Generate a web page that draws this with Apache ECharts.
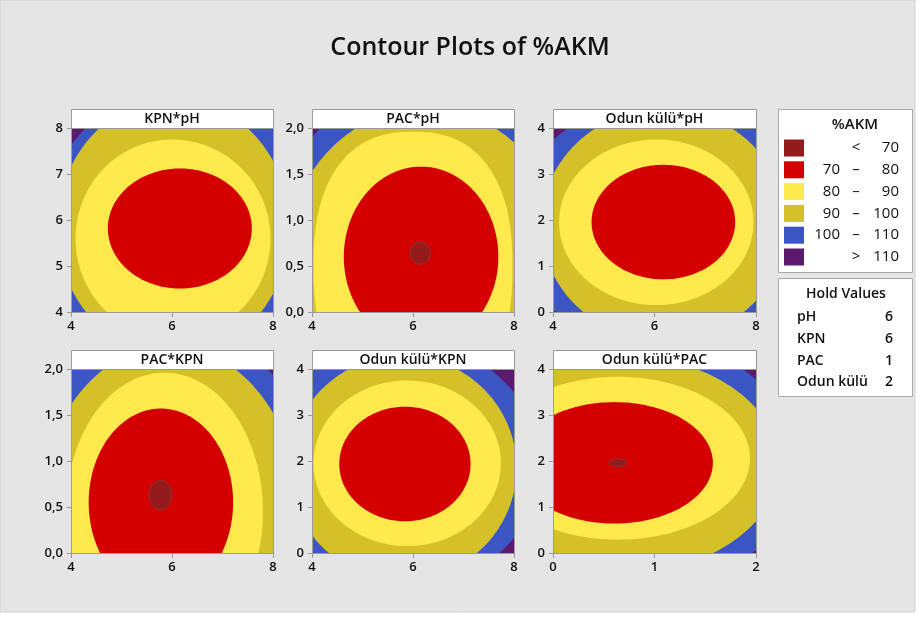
<!DOCTYPE html>
<html><head><meta charset="utf-8">
<script src="https://cdn.jsdelivr.net/npm/echarts@6/dist/echarts.min.js"></script>
<style>html,body{margin:0;padding:0;background:#fff}#c{width:924px;height:621px}</style>
</head><body><div id="c"></div><script>
const titleText = 'Contour Plots of %AKM';
const panelTitles = ['KPN*pH', 'PAC*pH', 'Odun külü*pH', 'PAC*KPN', 'Odun külü*KPN', 'Odun külü*PAC'];
const xMins = [4, 4, 4, 4, 4, 0];
const xMaxs = [8, 8, 8, 8, 8, 2];
const xSteps = [2, 2, 2, 2, 2, 1];
const yMins = [4, 0, 0, 0, 0, 0];
const yMaxs = [8, 2, 4, 2, 4, 4];
const ySteps = [1, 0.5, 1, 0.5, 1, 1];
const yDecimals = [0, 1, 0, 1, 0, 0];

// contour boundaries:
// [level, centreX, centreY, reachLeft, reachRight, reachDown, reachUp, roundness]
const contourKpnPh   = [[110, 6.15, 5.75, 2.7, 2.7, 3.1, 3.1, 2], [100, 6.03, 5.84, 2.3, 2.3, 2.8, 2.8, 2], [90, 6.0, 5.6, 1.91, 1.95, 2.17, 2.15, 2], [80, 6.16, 5.82, 1.43, 1.42, 1.31, 1.30, 2]];
const contourPacPh   = [[110, 6.25, 0.5, 3.0, 3.0, 2.1, 2.1, 2], [100, 6.25, 0.5, 2.8, 2.8, 1.72, 1.72, 2], [90, 6.0, 0.49, 1.97, 1.97, 1.47, 1.47, 2.4], [80, 6.16, 0.6, 1.53, 1.53, 0.98, 0.98, 2], [70, 6.14, 0.64, 0.2, 0.2, 0.12, 0.12, 2]];
const contourOdunPh  = [[110, 6.18, 1.9, 2.96, 2.96, 2.72, 2.72, 2], [100, 6.18, 1.9, 2.41, 2.41, 2.52, 2.52, 2], [90, 6.035, 1.95, 1.915, 1.915, 1.8, 1.8, 2], [80, 6.175, 1.955, 1.415, 1.415, 1.245, 1.245, 2]];
const contourPacKpn  = [[110, 5.85, 0.45, 3.27, 3.27, 1.975, 1.975, 2], [100, 5.95, 0.45, 2.55, 2.55, 1.8, 1.8, 2], [90, 5.85, 0.45, 1.95, 1.95, 1.51, 1.51, 2], [80, 5.78, 0.55, 1.43, 1.43, 1.02, 1.02, 2], [70, 5.77, 0.63, 0.22, 0.22, 0.16, 0.16, 2]];
const contourOdunKpn = [[110, 5.6, 1.91, 2.92, 2.92, 2.77, 2.77, 2], [100, 5.8, 1.85, 2.25, 2.25, 2.44, 2.44, 2], [90, 5.885, 1.95, 1.855, 1.855, 1.8, 1.8, 2], [80, 5.84, 1.935, 1.3, 1.3, 1.245, 1.245, 2]];
const contourOdunPac = [[110, 0.6, 1.92, 1.81, 1.81, 2.92, 2.92, 2], [100, 0.6, 1.92, 1.63, 1.63, 2.4, 2.4, 2], [90, 0.64, 2.06, 1.3, 1.3, 1.77, 1.77, 2], [80, 0.605, 1.96, 0.97, 0.97, 1.32, 1.32, 2], [70, 0.64, 1.96, 0.085, 0.085, 0.09, 0.09, 2]];
const contours = [contourKpnPh, contourPacPh, contourOdunPh, contourPacKpn, contourOdunKpn, contourOdunPac];

const legendTitle = '%AKM';
const legendLow  = ['', '70', '80', '90', '100', ''];
const legendSep  = ['<', '–', '–', '–', '–', '>'];
const legendHigh = ['70', '80', '90', '100', '110', '110'];
const bandLevels = [70, 80, 90, 100, 110];
const bandColors = ['#931b1b', '#d40000', '#ffe94d', '#d4c12a', '#3b56c2', '#5b1a6e'];

const holdTitle = 'Hold Values';
const holdNames = ['pH', 'KPN', 'PAC', 'Odun külü'];
const holdValues = [6, 6, 1, 2];

const FONT = '"Open Sans", "Noto Sans", sans-serif';
const gridLefts = [71, 312, 553, 71, 312, 553];
const gridTops = [128, 128, 128, 369, 369, 369];
const gridW = [202, 202, 203, 202, 202, 203];
const gridH = 184;
const headH = 19;

function levelColor(level) {
  return bandColors[bandLevels.indexOf(level)];
}

function renderContour(params, api) {
  const level = api.value(0);
  const cx = api.value(1), cy = api.value(2);
  const rl = api.value(3), rr = api.value(4), rd = api.value(5), ru = api.value(6);
  const p = api.value(7) || 2;
  const pts = [];
  const n = 200;
  for (let i = 0; i < n; i++) {
    const t = i / n * Math.PI * 2;
    const c = Math.cos(t), s = Math.sin(t);
    const ec = Math.sign(c) * Math.pow(Math.abs(c), 2 / p);
    const es = Math.sign(s) * Math.pow(Math.abs(s), 2 / p);
    const x = cx + ec * (c < 0 ? rl : rr);
    const y = cy + es * (s < 0 ? rd : ru);
    pts.push(api.coord([x, y]));
  }
  const isCore = level === 70;
  return {
    type: 'polygon',
    shape: { points: pts },
    style: { fill: levelColor(level), stroke: isCore ? 'rgba(110,80,80,0.7)' : null, lineWidth: isCore ? 1 : 0 }
  };
}

const grids = [], xAxes = [], yAxes = [], series = [], graphics = [];
graphics.push({ type: 'rect', shape: { x: 0, y: 0, width: 915, height: 612 }, style: { fill: '#e5e5e5', stroke: '#d0d0d0' }, z: -100 });
graphics.push({ type: 'text', x: 470, y: 48, style: { text: titleText, font: '600 25px ' + FONT, fill: '#111', textAlign: 'center', textVerticalAlign: 'middle' } });

for (let i = 0; i < 6; i++) {
  grids.push({ left: gridLefts[i], top: gridTops[i], width: gridW[i], height: gridH, show: true, backgroundColor: bandColors[5], borderWidth: 0 });
  const lab = { fontFamily: FONT, fontSize: 13, fontWeight: 600, color: '#111' };
  xAxes.push({
    type: 'value', gridIndex: i, min: xMins[i], max: xMaxs[i], interval: xSteps[i],
    axisLine: { show: true, lineStyle: { color: '#9a9a9a' } },
    axisTick: { show: true, length: 5, lineStyle: { color: '#9a9a9a' } },
    axisLabel: Object.assign({ margin: 8, formatter: v => String(v) }, lab),
    splitLine: { show: false }
  });
  yAxes.push({
    type: 'value', gridIndex: i, min: yMins[i], max: yMaxs[i], interval: ySteps[i],
    axisLine: { show: true, lineStyle: { color: '#9a9a9a' } },
    axisTick: { show: true, length: 4, lineStyle: { color: '#9a9a9a' } },
    axisLabel: Object.assign({ margin: 8, formatter: v => v.toFixed(yDecimals[i]).replace('.', ',') }, lab),
    splitLine: { show: false }
  });
  series.push({
    type: 'custom', xAxisIndex: i, yAxisIndex: i, clip: true, silent: true,
    renderItem: renderContour, data: contours[i], animation: false
  });
  graphics.push({ type: 'rect', z: 50, shape: { x: gridLefts[i] + 0.5, y: gridTops[i] - headH + 0.5, width: gridW[i], height: headH }, style: { fill: '#fff', stroke: '#9a9a9a', lineWidth: 1 } });
  graphics.push({ type: 'text', z: 51, x: gridLefts[i] + gridW[i] / 2, y: gridTops[i] - headH / 2 + 1, style: { text: panelTitles[i], font: '600 14px ' + FONT, fill: '#111', textAlign: 'center', textVerticalAlign: 'middle' } });
  graphics.push({ type: 'rect', z: 50, shape: { x: gridLefts[i] + 0.5, y: gridTops[i] + 0.5, width: gridW[i], height: gridH }, style: { fill: 'none', stroke: '#9a9a9a', lineWidth: 1 } });
}

graphics.push({ type: 'rect', z: 50, shape: { x: 778.5, y: 109.5, width: 134, height: 163 }, style: { fill: '#fff', stroke: '#a8a8a8' } });
graphics.push({ type: 'text', z: 51, x: 855, y: 125, style: { text: legendTitle, font: '600 15px ' + FONT, fill: '#111', textAlign: 'center', textVerticalAlign: 'middle' } });
for (let r = 0; r < 6; r++) {
  const cy = 148 + r * 21.8;
  graphics.push({ type: 'rect', z: 51, shape: { x: 784, y: cy - 8.5, width: 20, height: 17 }, style: { fill: bandColors[r] } });
  const f = '500 15px ' + FONT;
  if (legendLow[r]) graphics.push({ type: 'text', z: 51, x: 840, y: cy, style: { text: legendLow[r], font: f, fill: '#111', textAlign: 'right', textVerticalAlign: 'middle' } });
  graphics.push({ type: 'text', z: 51, x: 856, y: cy, style: { text: legendSep[r], font: f, fill: '#111', textAlign: 'center', textVerticalAlign: 'middle' } });
  graphics.push({ type: 'text', z: 51, x: 899, y: cy, style: { text: legendHigh[r], font: f, fill: '#111', textAlign: 'right', textVerticalAlign: 'middle' } });
}
graphics.push({ type: 'rect', z: 50, shape: { x: 778.5, y: 278.5, width: 134, height: 118 }, style: { fill: '#fff', stroke: '#a8a8a8' } });
graphics.push({ type: 'text', z: 51, x: 846, y: 294, style: { text: holdTitle, font: '600 14px ' + FONT, fill: '#111', textAlign: 'center', textVerticalAlign: 'middle' } });
for (let r = 0; r < holdNames.length; r++) {
  const cy = 317 + r * 21.8;
  graphics.push({ type: 'text', z: 51, x: 797, y: cy, style: { text: holdNames[r], font: '600 14px ' + FONT, fill: '#111', textAlign: 'left', textVerticalAlign: 'middle' } });
  graphics.push({ type: 'text', z: 51, x: 893, y: cy, style: { text: String(holdValues[r]), font: '600 14px ' + FONT, fill: '#111', textAlign: 'right', textVerticalAlign: 'middle' } });
}

const chart = echarts.init(document.getElementById('c'), null, { renderer: 'canvas' });
chart.setOption({
  backgroundColor: '#ffffff',
  animation: false,
  grid: grids, xAxis: xAxes, yAxis: yAxes, series: series,
  graphic: { elements: graphics }
});
</script></body></html>
